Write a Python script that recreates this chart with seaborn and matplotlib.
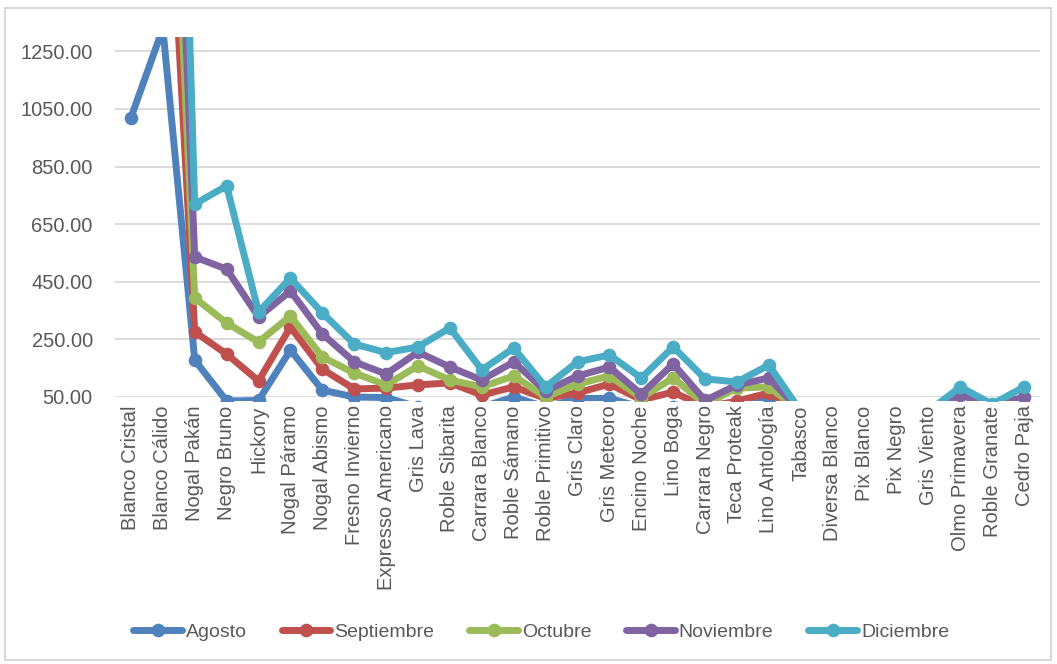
import numpy as np
import pandas as pd
import matplotlib
matplotlib.use("Agg")
import matplotlib.pyplot as plt
import seaborn as sns
from matplotlib.patches import Rectangle
from matplotlib.lines import Line2D
from matplotlib.ticker import FuncFormatter

categorias = ["Blanco Cristal", "Blanco Cálido", "Nogal Pakán", "Negro Bruno", "Hickory",
              "Nogal Páramo", "Nogal Abismo", "Fresno Invierno", "Expresso Americano",
              "Gris Lava", "Roble Sibarita", "Carrara Blanco", "Roble Sámano",
              "Roble Primitivo", "Gris Claro", "Gris Meteoro", "Encino Noche", "Lino Boga",
              "Carrara Negro", "Teca Proteak", "Lino Antología", "Tabasco", "Diversa Blanco",
              "Pix Blanco", "Pix Negro", "Gris Viento", "Olmo Primavera", "Roble Granate",
              "Cedro Paja"]

nan = np.nan
agosto = [1020, 1330, 178, 36, 38, 213, 74, 50, 48, 15, 10, 15, 50, 15, 45, 45, 15, 15,
          10, 15, 48, 0, 0, 0, 0, 0, 0, 0, 0]
septiembre = [nan, 2300, 276, 199, 106, 293, 147, 78, 81, 92, 99, 57, 85, 45, 64, 95, 40,
              67, 15, 36, 64, 0, 0, 0, 0, 0, 0, 0, 0]
octubre = [nan, 2800, 394, 307, 241, 331, 189, 133, 92, 158, 109, 85, 123, 50, 95, 123, 48,
           116, 25, 81, 85, 0, 0, 0, 0, 0, 0, 0, 0]
noviembre = [nan, 3300, 536, 494, 328, 418, 269, 172, 130, 206, 154, 109, 172, 71, 123, 154,
             60, 165, 38, 92, 116, 0, 0, 0, 0, 0, 57, 20, 50]
diciembre = [nan, 4400, 720, 783, 345, 463, 342, 234, 204, 224, 290, 144, 220, 85, 172, 196,
             116, 224, 113, 102, 161, 0, 0, 0, 0, 0, 85, 25, 85]

meses = ["Agosto", "Septiembre", "Octubre", "Noviembre", "Diciembre"]
series = [agosto, septiembre, octubre, noviembre, diciembre]
colores = ["#4F81BD", "#C0504D", "#9BBB59", "#8064A2", "#4BACC6"]

rows = []
for mes, vals in zip(meses, series):
    for i, v in enumerate(vals):
        rows.append({"pos": i, "valor": v, "mes": mes})
df = pd.DataFrame(rows).dropna()

sns.set_theme(style="white")
plt.rcParams["font.family"] = ["Liberation Sans", "DejaVu Sans"]

W, H = 1057, 664
fig = plt.figure(figsize=(W / 100, H / 100), dpi=100)
ax = fig.add_axes([115 / W, 1 - 397 / H, 925 / W, 360 / H])

sns.lineplot(data=df, x="pos", y="valor", hue="mes", hue_order=meses,
             palette=colores, marker="o", markersize=9.8, markeredgewidth=0,
             linewidth=5, sort=False, estimator=None, legend=False, ax=ax)

ax.set_xlim(-0.5, len(categorias) - 0.5)
ax.set_ylim(50, 1300)

clip = Rectangle((0, -0.012), 1, 1.012, transform=ax.transAxes,
                 facecolor="none", edgecolor="none")
for ln in ax.lines:
    ln.set_clip_path(clip)
    ln.set_solid_joinstyle("round")

ax.set_yticks(np.arange(50, 1300, 200))
ax.yaxis.set_major_formatter(FuncFormatter(lambda v, p: f"{v:.2f}"))
ax.set_xticks(range(len(categorias)))
ax.set_xticklabels(categorias, rotation=90)
ax.tick_params(axis="y", length=0, pad=16, labelsize=14.5, labelcolor="#595959")
ax.tick_params(axis="x", length=0, pad=6, labelsize=14.5, labelcolor="#595959")
ax.set_xlabel("")
ax.set_ylabel("")
ax.yaxis.grid(True, color="#D9D9D9", linewidth=1.3)
ax.xaxis.grid(False)
ax.set_axisbelow(True)
for s in ax.spines.values():
    s.set_visible(False)

handles = [Line2D([], [], color=c, lw=5, marker="o", markersize=9.8, markeredgewidth=0)
           for c in colores]
fig.legend(handles, meses, loc="center", bbox_to_anchor=(0.512, 0.048), ncol=5,
           frameon=False, fontsize=14, handlelength=2.5, handletextpad=0.2,
           columnspacing=1.8, labelcolor="#595959")

fig.patches.append(Rectangle((5 / W, 4 / H), 1046 / W, 652 / H, transform=fig.transFigure,
                             fill=False, edgecolor="#D9D9D9", linewidth=1.5))

fig.savefig("out.png", dpi=100)
